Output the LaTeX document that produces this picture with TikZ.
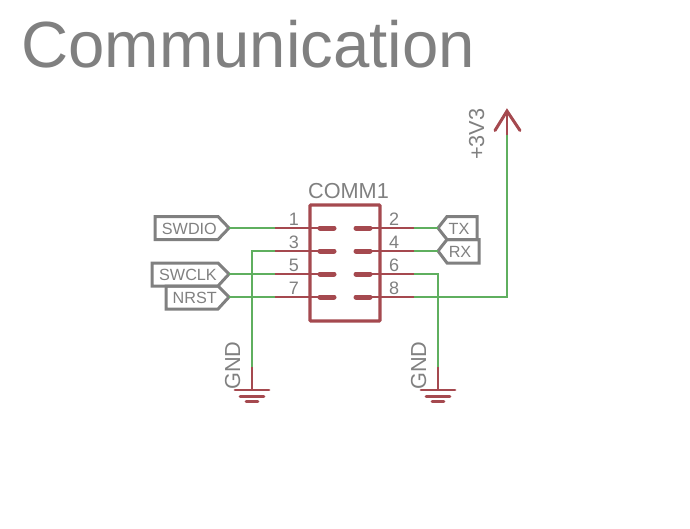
\documentclass[tikz,border=0pt]{standalone}
\usepackage{fontspec}
\setmainfont{Liberation Sans}
\definecolor{symred}{HTML}{A5494F}
\definecolor{netgreen}{HTML}{5FAF5F}
\definecolor{txtgray}{HTML}{808080}
\definecolor{lblgray}{HTML}{808080}
\tikzset{
  x=1pt,y=-1pt,
  redwire/.style={draw=symred,line width=1.6pt},
  greenwire/.style={draw=netgreen,line width=1.6pt},
  padbar/.style={draw=symred,line width=5pt,line cap=round},
  bodybox/.style={draw=symred,line width=3.4pt,rounded corners=1pt},
  flagbox/.style={draw=lblgray,line width=3pt,line join=miter},
  flagtext/.style={text=txtgray,font=\fontsize{16.2}{17}\selectfont,inner sep=0pt},
  pintext/.style={text=txtgray,font=\fontsize{18}{18}\selectfont,inner sep=0pt,anchor=base},
  nametext/.style={text=txtgray,font=\fontsize{21.7}{22}\selectfont,inner sep=0pt},
  title/.style={text=txtgray,font=\fontsize{65.3}{66}\selectfont,inner sep=0pt,anchor=base west},
  gndbar/.style={draw=symred,line width=2.8pt,line cap=round}
}
\begin{document}
\begin{tikzpicture}
\useasboundingbox (0,0) rectangle (690,528);
\node[title] (ttl) at (21,67) {Communication};
\node[nametext,anchor=base] (refdes) at (348.5,198) {COMM1};

% connector body
\draw[bodybox] (310,205) rectangle (380,321);
\foreach \n/\y in {a/228,b/251,c/274,d/297}{
  \coordinate (L\n) at (275,\y);
  \coordinate (Q\n) at (334,\y);
  \coordinate (P\n) at (320,\y);
  \coordinate (R\n) at (414,\y);
  \coordinate (S\n) at (356,\y);
  \coordinate (T\n) at (370,\y);
  \draw[redwire] (L\n) -- (Q\n);
  \draw[redwire] (S\n) -- (R\n);
  \draw[padbar] (P\n) -- (Q\n);
  \draw[padbar] (S\n) -- (T\n);
}
% pin numbers
\node[pintext] (p1) at (294,225) {1};
\node[pintext] (p3) at (294,248) {3};
\node[pintext] (p5) at (294,271) {5};
\node[pintext] (p7) at (294,294) {7};
\node[pintext] (p2) at (394,225) {2};
\node[pintext] (p4) at (394,248) {4};
\node[pintext] (p6) at (394,271) {6};
\node[pintext] (p8) at (394,294) {8};

% flags
\draw[flagbox] (155,216.5) -- (218,216.5) -- (229,228) -- (218,239.5) -- (155,239.5) -- cycle;
\draw[flagbox] (152,263) -- (218,263) -- (229,274) -- (218,286) -- (152,286) -- cycle;
\draw[flagbox] (166,286) -- (218,286) -- (229,297) -- (218,309) -- (166,309) -- cycle;
\draw[flagbox] (477,216.5) -- (447,216.5) -- (438,228) -- (447,239.5) -- (477,239.5) -- cycle;
\draw[flagbox] (479,239.5) -- (447,239.5) -- (438,251) -- (447,263) -- (479,263) -- cycle;
\coordinate (swdio) at (229,228);
\coordinate (swclk) at (229,274);
\coordinate (nrst) at (229,297);
\coordinate (tx) at (438,228);
\coordinate (rx) at (438,251);
\node[flagtext,anchor=east] (t1) at (217,229) {SWDIO};
\node[flagtext,anchor=east] (t2) at (217,275) {SWCLK};
\node[flagtext,anchor=east] (t3) at (217,298) {NRST};
\node[flagtext,anchor=center] (t4) at (459,229) {TX};
\node[flagtext,anchor=center] (t5) at (460,252) {RX};

% power symbols
\coordinate (g1) at (252,367);
\coordinate (g1b) at (252,390);
\coordinate (g2) at (438,367);
\coordinate (g2b) at (438,390);
\coordinate (v) at (507,135);
\coordinate (vt) at (507,111);
\coordinate (c8) at (507,297);
\draw[redwire] (g1) -- (g1b);
\draw[redwire] (g2) -- (g2b);
\foreach \c in {252,438}{
  \draw[gndbar] (\c-17,390) -- (\c+17,390);
  \draw[gndbar] (\c-12,396.5) -- (\c+12,396.5);
  \draw[gndbar] (\c-6,401.7) -- (\c+6,401.7);
}
\node[nametext,rotate=90,anchor=base west] (gnd1) at (240,390) {GND};
\node[nametext,rotate=90,anchor=base west] (gnd2) at (426,390) {GND};
\node[nametext,rotate=90,anchor=base west] (vcc) at (484,160) {+3V3};
\draw[redwire] (v) -- (vt);
\draw[draw=symred,line width=3pt,line cap=round,line join=miter] (495,130.5) -- (vt) -- (520,130.5);

% nets
\draw[greenwire] (swdio) -- (La);
\draw[greenwire] (swclk) -- (Lc);
\draw[greenwire] (nrst) -- (Ld);
\draw[greenwire] (Lb) -- (252,251) -- (g1);
\draw[greenwire] (Ra) -- (tx);
\draw[greenwire] (Rb) -- (rx);
\draw[greenwire] (Rc) -- (438,274) -- (g2);
\draw[greenwire] (Rd) -- (c8) -- (v);
\end{tikzpicture}
\end{document}
